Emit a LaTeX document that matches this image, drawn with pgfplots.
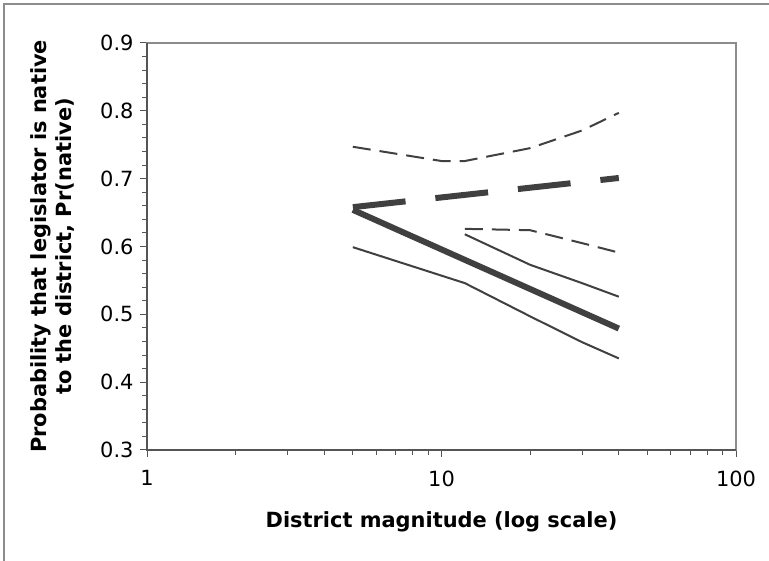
\documentclass[border=0pt]{standalone}
\usepackage{fontspec}
\setmainfont{DejaVu Sans}
\usepackage{pgfplots}
\pgfplotsset{compat=1.18}
\definecolor{series}{HTML}{404040}
\definecolor{frame}{HTML}{8C8C8C}
\definecolor{axisdark}{HTML}{555555}

\begin{document}
\begin{tikzpicture}[x=1bp,y=1bp]
\useasboundingbox (0,0) rectangle (769,561);
% chart area border (only top and left visible)
\draw[frame, line width=1.5bp] (4,0) -- (4,557) -- (769,557);
\begin{axis}[
    at={(147bp,111bp)}, anchor=south west,
    scale only axis, width=589bp, height=407bp,
    xmode=log, xmin=1, xmax=100,
    ymin=0.3, ymax=0.9,
    xtick={1,10,100}, xticklabels={1,10,100},
    ytick={0.3,0.4,0.5,0.6,0.7,0.8,0.9},
    minor y tick num=4,
    /pgf/number format/fixed,
    /pgf/number format/fixed zerofill,
    /pgf/number format/precision=1,
    /pgf/number format/assume math mode=true,
    tick align=outside, tick pos=left,
    major tick length=7bp, minor tick length=5bp,
    axis line style={frame, line width=1.3bp},
    every tick/.style={axisdark, line width=1bp},
    ticklabel style={font=\fontsize{21}{25}\selectfont},
    xticklabel style={yshift=-10bp},
    yticklabel style={xshift=-3bp},
    xlabel={District magnitude (log scale)},
    xlabel style={font=\fontsize{21}{25}\selectfont\bfseries,
        at={(axis description cs:0.5,0)}, anchor=center, yshift=-72bp},
    ylabel={Probability that legislator is native\\to the district, Pr(native)},
    ylabel style={font=\fontsize{21}{25}\selectfont\bfseries, align=center,
        at={(axis description cs:-0.161,0.5)}, anchor=center},
    clip=false,
]
% darker axis lines on left and bottom
\draw[axisdark, line width=1.3bp] (rel axis cs:0,1) -- (rel axis cs:0,0) -- (rel axis cs:1,0);

% upper bound, thin dashed
\addplot[series, line width=2bp, dash pattern=on 18bp off 9bp] coordinates {
    (5,0.747) (10,0.726) (12,0.726) (20,0.745) (30,0.771) (40,0.797)
};
% lower group upper bound, thin dashed
\addplot[series, line width=2bp, dash pattern=on 18bp off 9bp] coordinates {
    (12,0.626) (20,0.624) (30,0.605) (40,0.591)
};
% thick dashed estimate
\addplot[series, line width=6bp, dash pattern=on 53bp off 30bp] coordinates {
    (5,0.658) (40,0.701)
};
% thick solid estimate
\addplot[series, line width=6bp] coordinates {
    (5,0.654) (40,0.479)
};
% thin solid upper
\addplot[series, line width=2bp] coordinates {
    (12,0.618) (20,0.573) (30,0.546) (40,0.526)
};
% thin solid lower
\addplot[series, line width=2bp] coordinates {
    (5,0.599) (12,0.546) (20,0.497) (30,0.459) (40,0.435)
};
\end{axis}
\end{tikzpicture}
\end{document}
